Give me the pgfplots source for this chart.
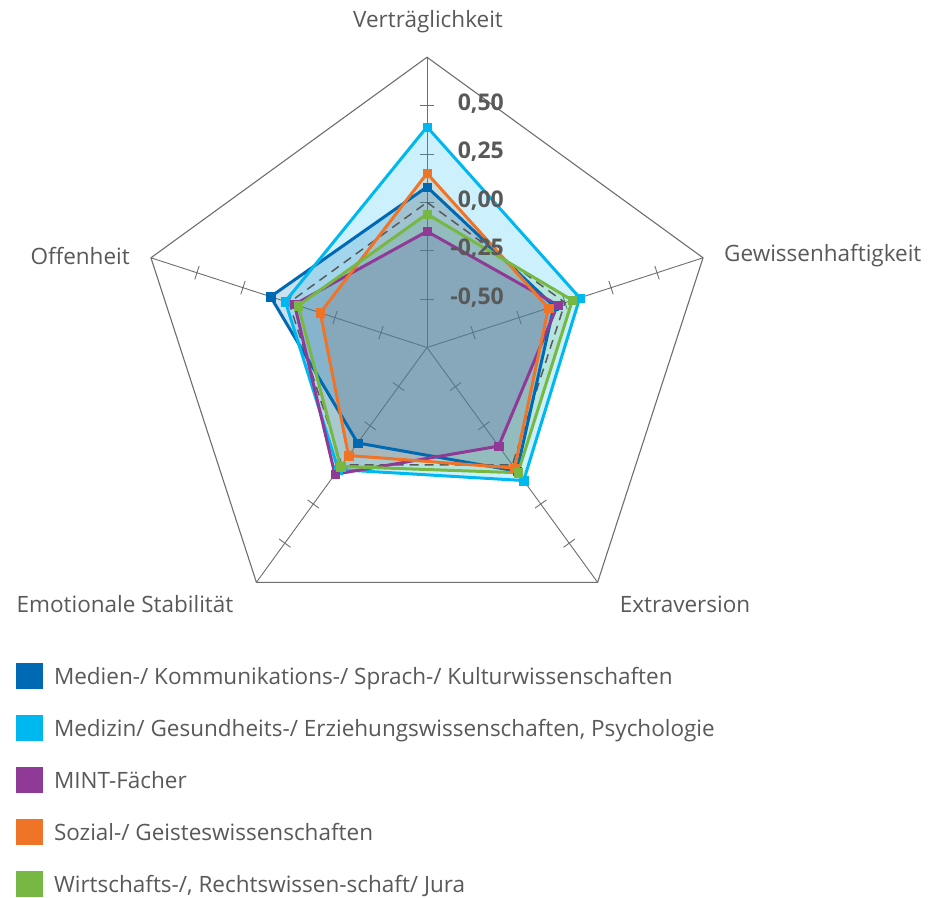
\documentclass[border=0pt]{standalone}
\usepackage{fontspec}
\setmainfont{Open Sans}
\usepackage{pgfplots}
\pgfplotsset{compat=1.18}
\usepackage{pgfplotstable}
\definecolor{cMed}{HTML}{0069B4}
\definecolor{cMedz}{HTML}{00B8F0}
\definecolor{cMint}{HTML}{8E3A96}
\definecolor{cSoz}{HTML}{F07427}
\definecolor{cWir}{HTML}{76B843}
\definecolor{tgray}{HTML}{595959}
\definecolor{lgray}{HTML}{6E6E6E}

% values per dimension (angle a in degrees)
\pgfplotstableread{
a    medien medizin mint  sozial wirtschaft zero
90    0.08   0.39  -0.15   0.15  -0.06      0
18   -0.06   0.08  -0.04  -0.09   0.04      0
-54   0.04   0.10  -0.12   0.02   0.05      0
-126 -0.14   0.03   0.06  -0.06   0.01      0
162   0.10   0.02  -0.03  -0.17  -0.05      0
90    0.08   0.39  -0.15   0.15  -0.06      0
}\radardata

\newcommand{\RX}[1]{(\thisrow{#1}+0.75)*193.5*cos(\thisrow{a})}
\newcommand{\RY}[1]{(\thisrow{#1}+0.75)*193.5*sin(\thisrow{a})}

\begin{document}
\begin{tikzpicture}
\path (0,0) rectangle (928pt,897pt);
% grid (center at 427pt,549.5pt from lower left)
\begin{scope}[shift={(427pt,549.5pt)}, lgray]
  \draw[line width=1.1pt] (90:290.25pt) -- (18:290.25pt) -- (-54:290.25pt) -- (-126:290.25pt) -- (162:290.25pt) -- cycle;
  \foreach \ang in {90,18,-54,-126,162}{
    \draw[line width=0.9pt] (0,0) -- (\ang:290.25pt);
    \foreach \r in {48.375,96.75,145.125,193.5,241.875}{
      \draw[line width=0.9pt] ([shift={(\ang+90:7pt)}]\ang:\r pt) -- ([shift={(\ang-90:7pt)}]\ang:\r pt);
    }
  }
\end{scope}
\begin{axis}[
  at={(0,0)}, anchor=south west,
  x=1pt, y=1pt, xmin=-427, xmax=501, ymin=-549.5, ymax=347.5,
  scale only axis, hide axis, clip=false,
  legend style={at={(0.01724,0.2612)}, anchor=north west, draw=none, fill=none,
    inner sep=0pt, outer sep=0pt, row sep=25.3pt,
    font=\fontsize{22.5}{26}\selectfont\color{tgray},
    nodes={inner sep=0pt, anchor=base west}},
  legend cell align=left,
  legend image code/.code={\path[draw=none, fill=none] (0pt,0pt) -- (38pt,0pt);\fill[#1, draw=none] (0pt,-5.35pt) rectangle (26.7pt,21.35pt);},
]
% fills (last series first)
\addplot[fill=cWir, fill opacity=0.2, draw=none, forget plot] table[x expr={\RX{wirtschaft}}, y expr={\RY{wirtschaft}}] {\radardata};
\addplot[fill=cSoz, fill opacity=0.2, draw=none, forget plot] table[x expr={\RX{sozial}}, y expr={\RY{sozial}}] {\radardata};
\addplot[fill=cMint, fill opacity=0.2, draw=none, forget plot] table[x expr={\RX{mint}}, y expr={\RY{mint}}] {\radardata};
\addplot[fill=cMedz, fill opacity=0.2, draw=none, forget plot] table[x expr={\RX{medizin}}, y expr={\RY{medizin}}] {\radardata};
\addplot[fill=cMed, fill opacity=0.2, draw=none, forget plot] table[x expr={\RX{medien}}, y expr={\RY{medien}}] {\radardata};
% zero level
\addplot[color=tgray, line width=1.5pt, dash pattern=on 9pt off 6pt, forget plot] table[x expr={\RX{zero}}, y expr={\RY{zero}}] {\radardata};
% lines
\addplot[color=cMed, line width=3pt, mark=square*, mark size=4.2pt, mark options={solid, line width=0.3pt}] table[x expr={\RX{medien}}, y expr={\RY{medien}}] {\radardata};
\addlegendentry{Medien-/ Kommunikations-/ Sprach-/ Kulturwissenschaften}
\addplot[color=cMedz, line width=3pt, mark=square*, mark size=4.2pt, mark options={solid, line width=0.3pt}] table[x expr={\RX{medizin}}, y expr={\RY{medizin}}] {\radardata};
\addlegendentry{Medizin/ Gesundheits-/ Erziehungswissenschaften, Psychologie}
\addplot[color=cMint, line width=3pt, mark=square*, mark size=4.2pt, mark options={solid, line width=0.3pt}] table[x expr={\RX{mint}}, y expr={\RY{mint}}] {\radardata};
\addlegendentry{MINT-Fächer}
\addplot[color=cSoz, line width=3pt, mark=square*, mark size=4.2pt, mark options={solid, line width=0.3pt}] table[x expr={\RX{sozial}}, y expr={\RY{sozial}}] {\radardata};
\addlegendentry{Sozial-/ Geisteswissenschaften}
\addplot[color=cWir, line width=3pt, mark=square*, mark size=4.2pt, mark options={solid, line width=0.3pt}] table[x expr={\RX{wirtschaft}}, y expr={\RY{wirtschaft}}] {\radardata};
\addlegendentry{Wirtschafts-/, Rechtswissen-schaft/ Jura}
% tick labels
\begin{scope}[every node/.style={font=\fontsize{23}{26}\selectfont\bfseries, text=tgray, anchor=east, inner sep=0pt}]
\node at (axis cs:77,244) {0,50};
\node at (axis cs:77,195.5) {0,25};
\node at (axis cs:77,147) {0,00};
\node at (axis cs:77,98.5) {-0,25};
\node at (axis cs:77,50) {-0,50};
\end{scope}
% category labels
\begin{scope}[every node/.style={font=\fontsize{22.5}{26}\selectfont, text=tgray, inner sep=0pt}]
\node[anchor=center] at (axis cs:1,325.5) {Verträglichkeit};
\node[anchor=west] at (axis cs:297,91.5) {Gewissenhaftigkeit};
\node[anchor=center] at (axis cs:258,-256.5) {Extraversion};
\node[anchor=center] at (axis cs:-302,-256.5) {Emotionale Stabilität};
\node[anchor=east] at (axis cs:-297,91.5) {Offenheit};
\end{scope}
\end{axis}
\end{tikzpicture}
\end{document}
